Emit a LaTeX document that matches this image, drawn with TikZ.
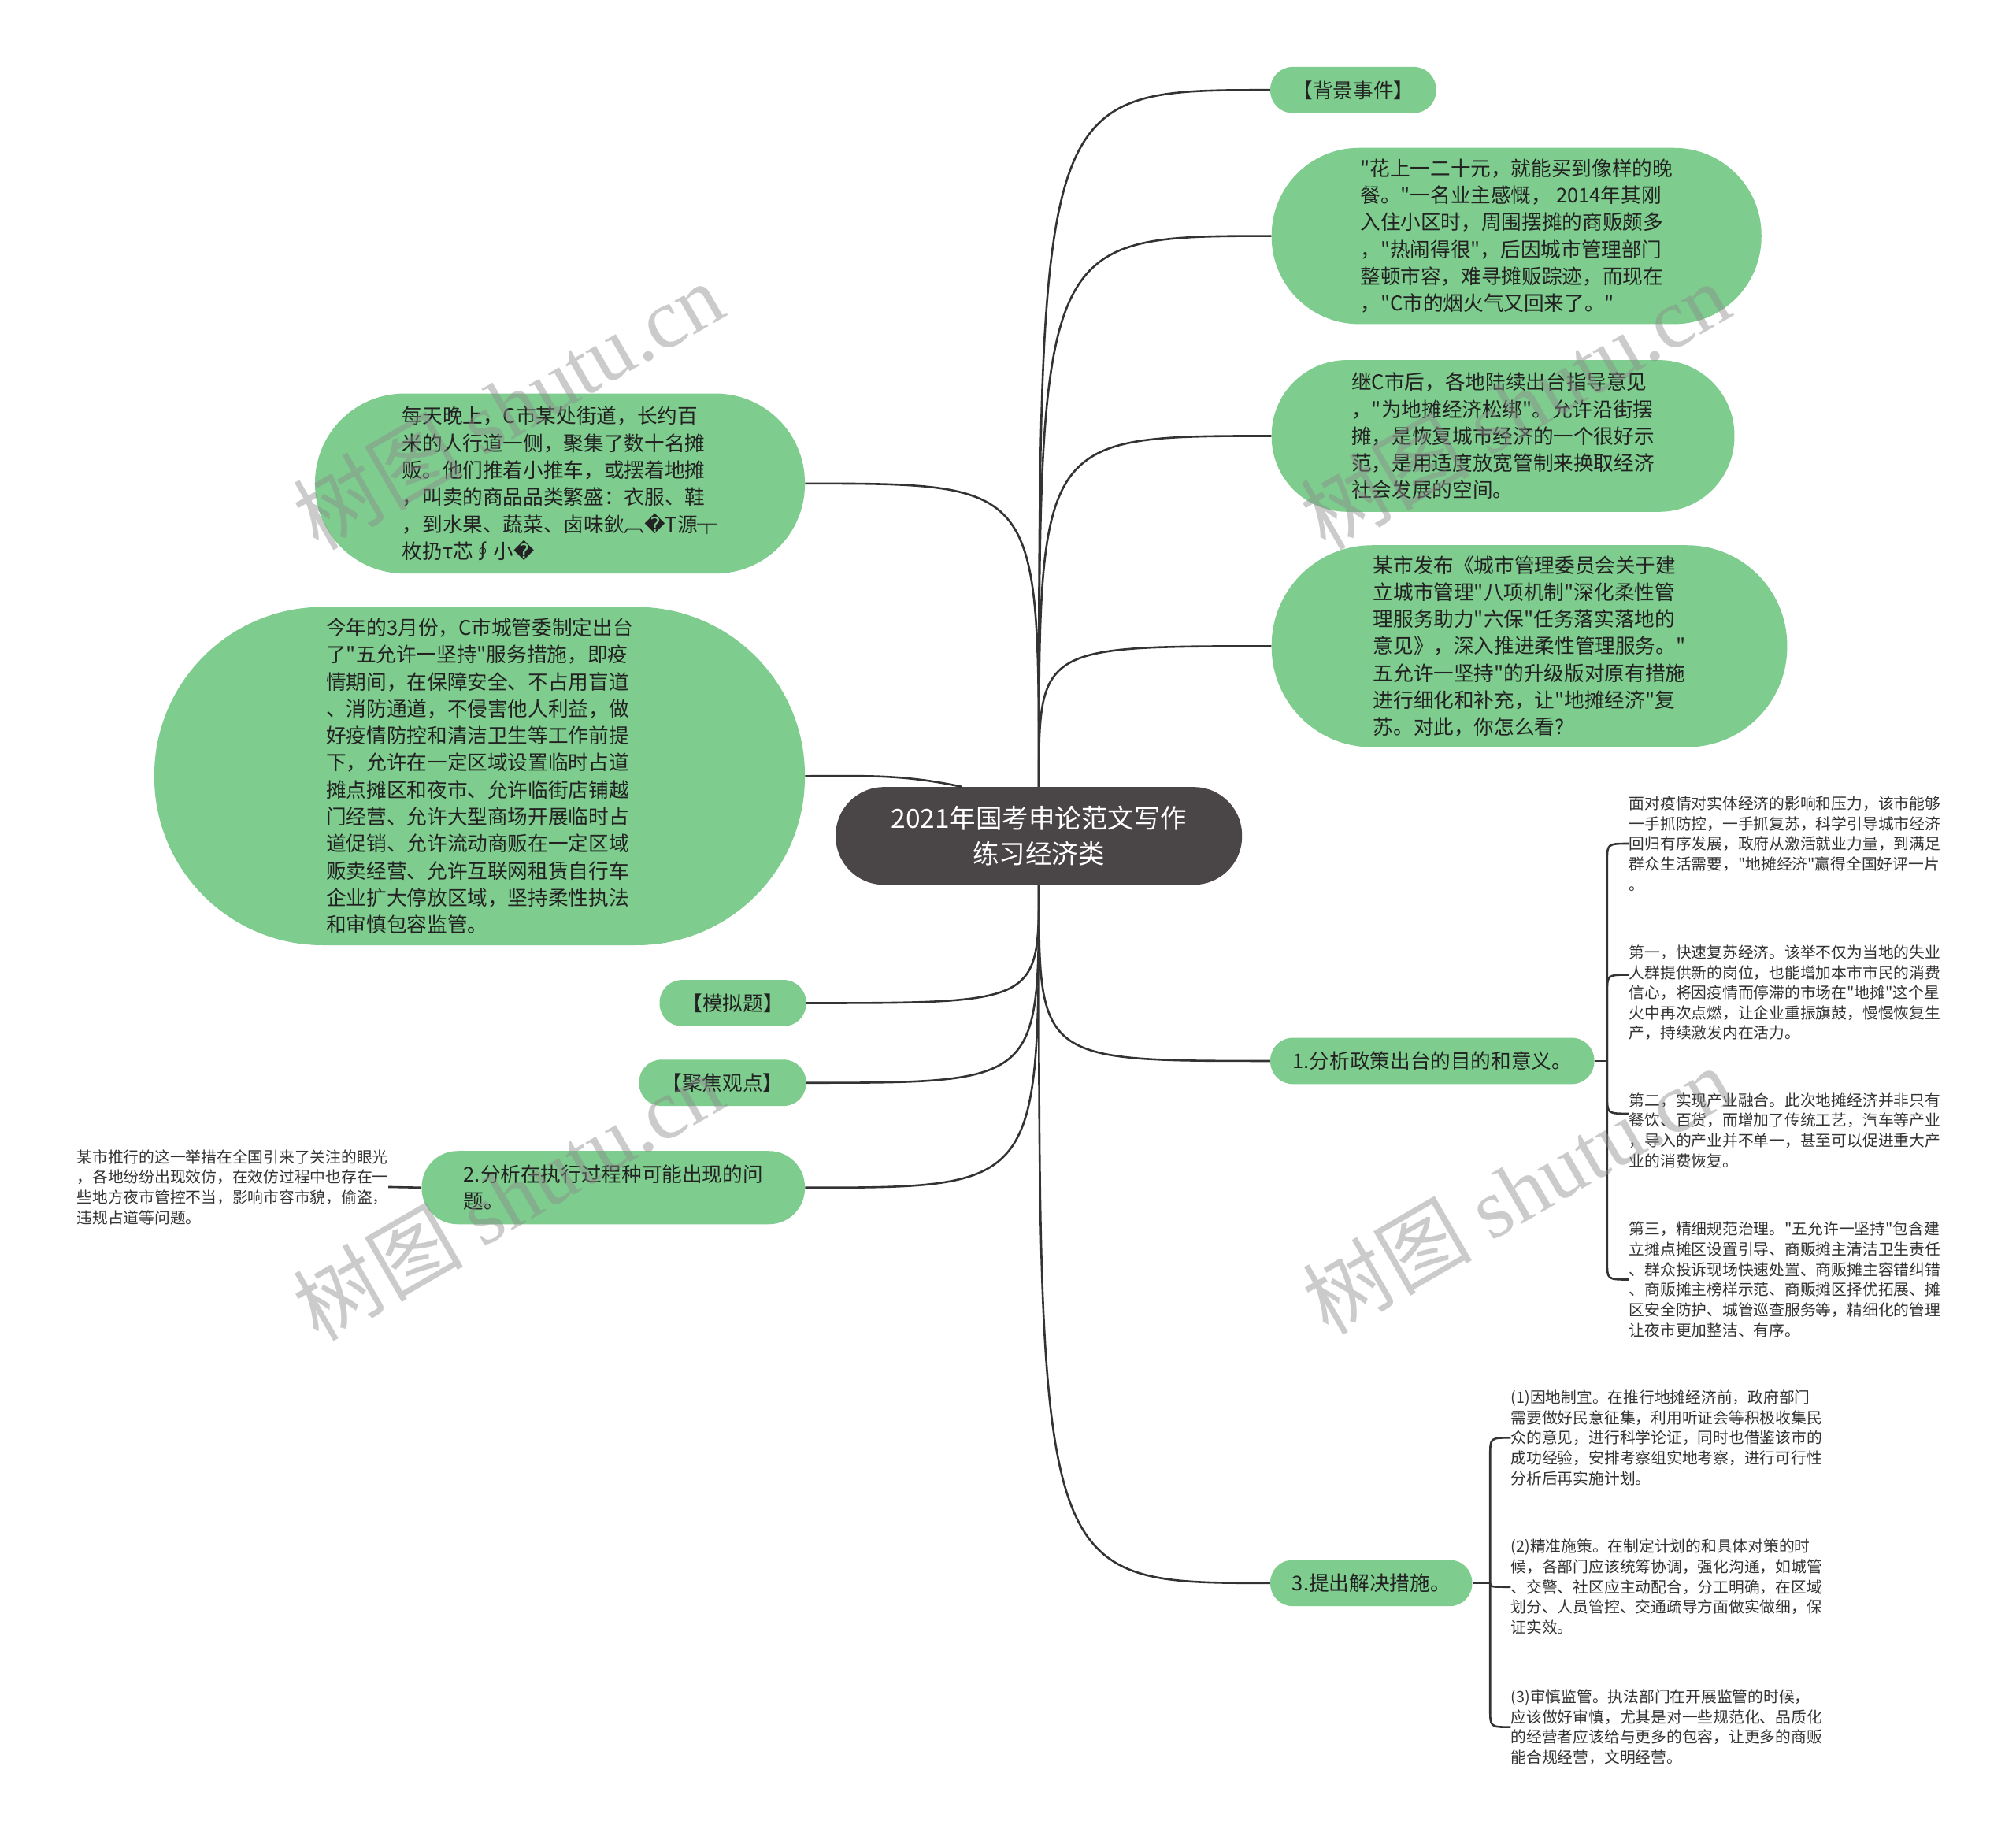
\documentclass[tikz,border=0pt]{standalone}
\usepackage{fontspec}
\setmainfont{Noto Sans CJK SC}[Ligatures=TeXOff]
\newfontfamily\mydejavu{DejaVu Sans}
\newfontfamily\mywmserif{Liberation Serif}
\newcommand\mygfont{\fontsize{15.7pt}{21pt}\selectfont}
\newcommand\mysfont{\fontsize{12.1pt}{15.7pt}\selectfont}
\newcommand\myrfont{\fontsize{20.5pt}{28pt}\selectfont}
\newcommand\mywfont{\fontsize{66pt}{72pt}\selectfont}
\newcommand\rep{{\mydejavu\char"FFFD}}
\definecolor{nodegreen}{HTML}{7ECC8E}
\definecolor{rootgray}{HTML}{4A4546}
\definecolor{linegray}{HTML}{333333}
\definecolor{textdark}{HTML}{222222}
\begin{document}
\begin{tikzpicture}[x=1pt,y=-1pt,
  gbox/.style={fill=nodegreen, text=textdark, align=left, inner sep=0pt, font=\mygfont},
  rootbox/.style={fill=rootgray, text=white, align=center, inner sep=0pt, font=\myrfont,
    minimum width=316pt, minimum height=76pt, rounded corners=37.5pt},
  stext/.style={text=linegray, align=left, inner sep=0pt, font=\mysfont},
  link/.style={draw=linegray, line width=1.6pt},
  wmark/.style={text=black!45, opacity=0.45, rotate=30, font=\mywfont, inner sep=0pt}]
\useasboundingbox (0,0) rectangle (1568,1430.8);
\fill[white] (0,0) rectangle (1568,1430.8);

% root
\node[rootbox] (root) at (808,650) {2021年国考申论范文写作\\练习经济类};

% right upper nodes
\node[gbox, minimum width=129pt, minimum height=36pt, rounded corners=17.5pt] (bg) at (1052.5,70) {【背景事件】};
\node[gbox, minimum width=381pt, minimum height=137pt, rounded corners=68pt] (n2) at (1179.5,183.5) {"花上一二十元，就能买到像样的晚\\餐。"一名业主感慨， 2014年其刚\\入住小区时，周围摆摊的商贩颇多\\，"热闹得很"，后因城市管理部门\\整顿市容，难寻摊贩踪迹，而现在\\，"C市的烟火气又回来了。"};
\node[gbox, minimum width=360pt, minimum height=118pt, rounded corners=58.5pt] (n3) at (1169,339) {继C市后，各地陆续出台指导意见\\，"为地摊经济松绑"。允许沿街摆\\摊，是恢复城市经济的一个很好示\\范，是用适度放宽管制来换取经济\\社会发展的空间。};
\node[gbox, minimum width=401pt, minimum height=157pt, rounded corners=78pt] (n4) at (1189.5,502.5) {某市发布《城市管理委员会关于建\\立城市管理"八项机制"深化柔性管\\理服务助力"六保"任务落实落地的\\意见》，深入推进柔性管理服务。"\\五允许一坚持"的升级版对原有措施\\进行细化和补充，让"地摊经济"复\\苏。对此，你怎么看?};

% left upper nodes
\node[gbox, minimum width=381pt, minimum height=140pt, rounded corners=69.5pt] (n5) at (435.5,376) {每天晚上，C市某处街道，长约百\\米的人行道一侧，聚集了数十名摊\\贩。他们推着小推车，或摆着地摊\\，叫卖的商品品类繁盛：衣服、鞋\\，到水果、蔬菜、卤味鈥︹\rep T源┬\\枚扔τ芯∮小\rep};
\node[gbox, minimum width=506pt, minimum height=263pt, rounded corners=131pt] (n6) at (373,603.5) {今年的3月份，C市城管委制定出台\\了"五允许一坚持"服务措施，即疫\\情期间，在保障安全、不占用盲道\\、消防通道，不侵害他人利益，做\\好疫情防控和清洁卫生等工作前提\\下，允许在一定区域设置临时占道\\摊点摊区和夜市、允许临街店铺越\\门经营、允许大型商场开展临时占\\道促销、允许流动商贩在一定区域\\贩卖经营、允许互联网租赁自行车\\企业扩大停放区域，坚持柔性执法\\和审慎包容监管。};

% left lower nodes
\node[gbox, minimum width=114pt, minimum height=36pt, rounded corners=17.5pt] (mn) at (570,780) {【模拟题】};
\node[gbox, minimum width=130pt, minimum height=36pt, rounded corners=17.5pt] (jj) at (562,842) {【聚焦观点】};
\node[gbox, minimum width=298pt, minimum height=57pt, rounded corners=28pt] (n9) at (477,923.5) {2.分析在执行过程种可能出现的问\\题。};
\node[stext, anchor=east] (lt) at (302,923) {某市推行的这一举措在全国引来了关注的眼光\\，各地纷纷出现效仿，在效仿过程中也存在一\\些地方夜市管控不当，影响市容市貌，偷盗，\\违规占道等问题。};

% right lower nodes
\node[gbox, minimum width=252pt, minimum height=36pt, rounded corners=17.5pt] (p1) at (1114,825) {1.分析政策出台的目的和意义。};
\node[gbox, minimum width=157pt, minimum height=36pt, rounded corners=17.5pt] (p3) at (1066.5,1231) {3.提出解决措施。};

\node[stext, anchor=west] (ra) at (1267,656) {面对疫情对实体经济的影响和压力，该市能够\\一手抓防控，一手抓复苏，科学引导城市经济\\回归有序发展，政府从激活就业力量，到满足\\群众生活需要，"地摊经济"赢得全国好评一片\\。};
\node[stext, anchor=west] (rb) at (1267,772) {第一，快速复苏经济。该举不仅为当地的失业\\人群提供新的岗位，也能增加本市市民的消费\\信心，将因疫情而停滞的市场在"地摊"这个星\\火中再次点燃，让企业重振旗鼓，慢慢恢复生\\产，持续激发内在活力。};
\node[stext, anchor=west] (rc) at (1267,879) {第二，实现产业融合。此次地摊经济并非只有\\餐饮、百货，而增加了传统工艺，汽车等产业\\，导入的产业并不单一，甚至可以促进重大产\\业的消费恢复。};
\node[stext, anchor=west] (rd) at (1267,995) {第三，精细规范治理。"五允许一坚持"包含建\\立摊点摊区设置引导、商贩摊主清洁卫生责任\\、群众投诉现场快速处置、商贩摊主容错纠错\\、商贩摊主榜样示范、商贩摊区择优拓展、摊\\区安全防护、城管巡查服务等，精细化的管理\\让夜市更加整洁、有序。};

\node[stext, anchor=west] (sa) at (1175,1118) {(1)因地制宜。在推行地摊经济前，政府部门\\需要做好民意征集，利用听证会等积极收集民\\众的意见，进行科学论证，同时也借鉴该市的\\成功经验，安排考察组实地考察，进行可行性\\分析后再实施计划。};
\node[stext, anchor=west] (sb) at (1175,1234) {(2)精准施策。在制定计划的和具体对策的时\\候，各部门应该统筹协调，强化沟通，如城管\\、交警、社区应主动配合，分工明确，在区域\\划分、人员管控、交通疏导方面做实做细，保\\证实效。};
\node[stext, anchor=west] (sc) at (1175,1343) {(3)审慎监管。执法部门在开展监管的时候，\\应该做好审慎，尤其是对一些规范化、品质化\\的经营者应该给与更多的包容，让更多的商贩\\能合规经营，文明经营。};

% connectors from root
\foreach \t in {bg,n2,n3,n4}
  \draw[link] (root.north) .. controls (root.north |- \t.west) .. (\t.west);
\draw[link] (root.north) .. controls (root.north |- n5.east) .. (n5.east);
\draw[link] (n6.east) to[out=0,in=168] ([xshift=-60pt]root.north);
\foreach \t in {mn,jj,n9}
  \draw[link] (root.south) .. controls (root.south |- \t.east) .. (\t.east);
\foreach \t in {p1,p3}
  \draw[link] (root.south) .. controls (root.south |- \t.west) .. (\t.west);

\draw[link] (n9.west) -- (lt.east);

% brace for p1
\coordinate (j1) at (1250,825);
\draw[link] (p1.east) -- (j1);
\draw[link] (j1) -- ([xshift=-17pt,yshift=-14pt]ra.west) .. controls ([xshift=-17pt]ra.west) .. (ra.west);
\draw[link] (j1) -- ([xshift=-17pt]rb.west) .. controls ([xshift=-17pt,yshift=14pt]rb.west) .. ([yshift=14pt]rb.west);
\draw[link] (j1) -- ([xshift=-17pt,yshift=27pt]rc.west) .. controls ([xshift=-17pt,yshift=13pt]rc.west) .. ([yshift=13pt]rc.west);
\draw[link] (j1) -- ([xshift=-17pt,yshift=14pt]rd.west) .. controls ([xshift=-17pt]rd.west) .. (rd.west);

% brace for p3
\coordinate (j2) at (1159,1231);
\draw[link] (p3.east) -- (j2);
\draw[link] (j2) -- ([xshift=-16pt,yshift=-14pt]sa.west) .. controls ([xshift=-16pt]sa.west) .. (sa.west);
\draw[link] (j2) .. controls ([xshift=-16pt]sb.west) .. (sb.west);
\draw[link] (j2) -- ([xshift=-16pt,yshift=14pt]sc.west) .. controls ([xshift=-16pt]sc.west) .. (sc.west);

% watermarks
\node[wmark] (w1) at (395,315) {树图 {\mywmserif shutu.cn}};
\node[wmark] (w2) at (1178,315) {树图 {\mywmserif shutu.cn}};
\node[wmark] (w3) at (395,930) {树图 {\mywmserif shutu.cn}};
\node[wmark] (w4) at (1180,925) {树图 {\mywmserif shutu.cn}};
\end{tikzpicture}
\end{document}
